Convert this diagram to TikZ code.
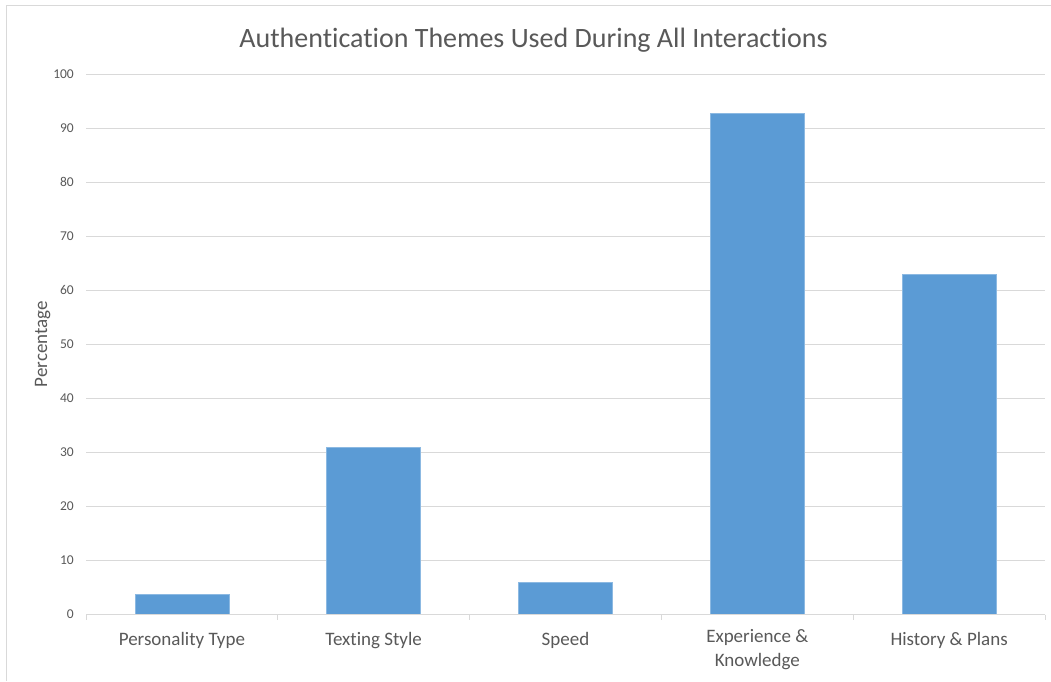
\documentclass[tikz,border=0pt]{standalone}
\usepackage{fontspec}
\setmainfont[Ligatures=NoCommon]{Carlito}
\definecolor{barblue}{HTML}{5B9BD5}
\definecolor{gridgray}{HTML}{D9D9D9}
\definecolor{txtgray}{HTML}{595959}
\begin{document}
\begin{tikzpicture}[x=1pt,y=-1pt,
  grid/.style={draw=gridgray,line width=1pt},
  bar/.style={fill=barblue,draw=barblue!70!white,line width=0.6pt},
  ticklab/.style={anchor=east,text=txtgray,font=\fontsize{13.5}{15}\selectfont,inner sep=0pt},
  catlab/.style={anchor=base,text=txtgray,font=\fontsize{19}{24}\selectfont,inner sep=0pt,align=center},
  ]
\useasboundingbox (0,0) rectangle (1051,681);
\fill[white] (0,0) rectangle (1051,681);
% chart border
\draw[gridgray,line width=1pt] (6,681) -- (6,5) -- (1051,5);
% title
\node[anchor=base,text=txtgray,font=\fontsize{28}{33}\selectfont,inner sep=0pt] (title) at (533.5,47) {Authentication Themes Used During All Interactions};
% gridlines and tick labels
\foreach \v in {10,20,...,100}{
  \draw[grid] (86,{614-5.4*\v}) -- (1045,{614-5.4*\v});
}
\foreach \v in {0,10,...,100}{
  \node[ticklab] (t\v) at (74,{614-5.4*\v}) {\v};
}
% bars
\foreach \c/\val in {181.9/3.7, 373.7/30.8, 565.5/5.8, 757.3/92.8, 949.1/62.9}{
  \draw[bar] ({\c-47},614) rectangle ({\c+47},{614-5.4*\val});
}
% axis
\draw[grid] (86,614.5) -- (1045,614.5);
\foreach \x in {86,277.8,469.6,661.4,853.2,1045}{
  \draw[grid] (\x,614.5) -- (\x,620);
}
% category labels
\node[catlab] (c1) at (181.9,645) {Personality Type};
\node[catlab] (c2) at (373.7,645) {Texting Style};
\node[catlab] (c3) at (565.5,645) {Speed};
\node[catlab,anchor=north] (c4) at (757.3,629) {Experience \&\\Knowledge};
\node[catlab] (c5) at (949.1,645) {History \& Plans};
% axis title
\node[rotate=90,anchor=base,text=txtgray,font=\fontsize{19}{22}\selectfont,inner sep=0pt] (ylab) at (47,344) {Percentage};
\end{tikzpicture}
\end{document}
